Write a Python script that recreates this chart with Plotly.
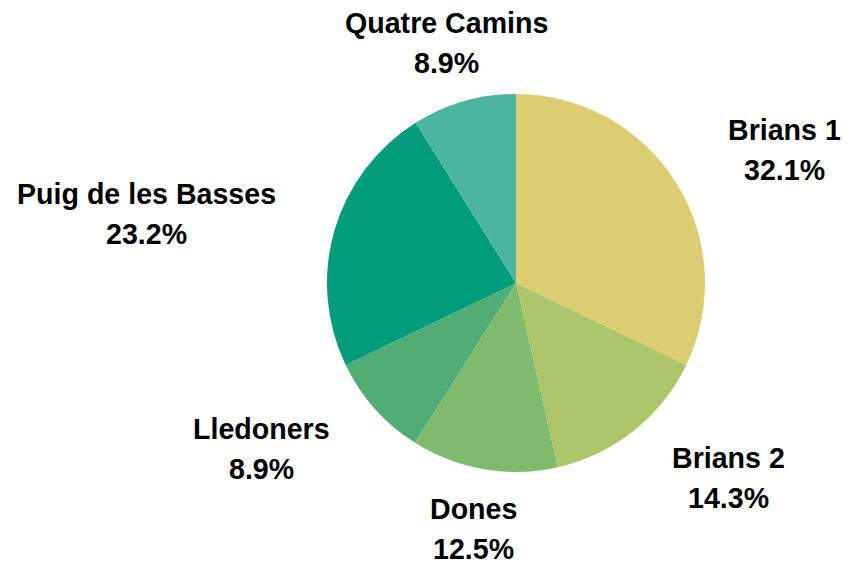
import math
import plotly.graph_objects as go

# Share of inmates by prison
labels = ["Brians 1", "Brians 2", "Dones", "Lledoners", "Puig de les Basses", "Quatre Camins"]
values = [32.1, 14.3, 12.5, 8.9, 23.2, 8.9]
colors = ["#DCCD72", "#AEC66B", "#7FBA6D", "#4FAD75", "#019C7B", "#4BB59F"]

W, H = 857, 565
cx, cy, r = 516, 283, 189      # pie centre and radius in pixels
label_dist = 250               # distance of label anchor from centre
line_gap = 20                  # half spacing between the two label lines
font_size = 28.6
font = dict(family="Liberation Sans, Arial, sans-serif", size=font_size, color="#000000")

# Bold sans advance widths (per 1000 em) used to size each label block
ADV = {" ": 278, "%": 889, ".": 278, "B": 722, "C": 722, "D": 722, "L": 611, "P": 667,
       "Q": 778, "a": 556, "b": 611, "d": 611, "e": 556, "g": 611, "i": 278, "l": 278,
       "m": 889, "n": 611, "o": 611, "r": 389, "s": 556, "t": 333, "u": 611}


def text_width(t):
    return sum(ADV.get(ch, 556) for ch in t) * font_size / 1000.0


fig = go.Figure(go.Pie(
    labels=labels,
    values=values,
    sort=False,
    direction="clockwise",
    rotation=0,
    marker=dict(colors=colors, line=dict(width=0)),
    textinfo="none",
    hoverinfo="label+percent",
    domain=dict(x=[(cx - r) / W, (cx + r) / W], y=[1 - (cy + r) / H, 1 - (cy - r) / H]),
))

# Two-line labels placed outside each slice along its mid angle,
# lines centred on each other within the label block
total = sum(values)
cum = 0.0
annotations = []
for name, v in zip(labels, values):
    mid = (cum + v / 2) / total * 2 * math.pi
    cum += v
    s, c = math.sin(mid), math.cos(mid)
    px = cx + label_dist * s
    py = cy - label_dist * c
    pct = f"{v:.1f}%"
    block_w = max(text_width(name), text_width(pct))
    if abs(s) < 0.4:
        bx = px
    elif s > 0:
        bx = px + block_w / 2
    else:
        bx = px - block_w / 2
    for txt, dy in ((f"<b>{name}</b>", -line_gap), (f"<b>{pct}</b>", line_gap)):
        annotations.append(dict(
            x=bx / W, y=1 - (py + dy) / H, xref="paper", yref="paper",
            text=txt, showarrow=False, xanchor="center", yanchor="middle",
            font=font,
        ))

fig.update_layout(
    width=W, height=H,
    margin=dict(l=0, r=0, t=0, b=0),
    paper_bgcolor="white",
    plot_bgcolor="white",
    showlegend=False,
    annotations=annotations,
)

fig.write_html("out.html")
